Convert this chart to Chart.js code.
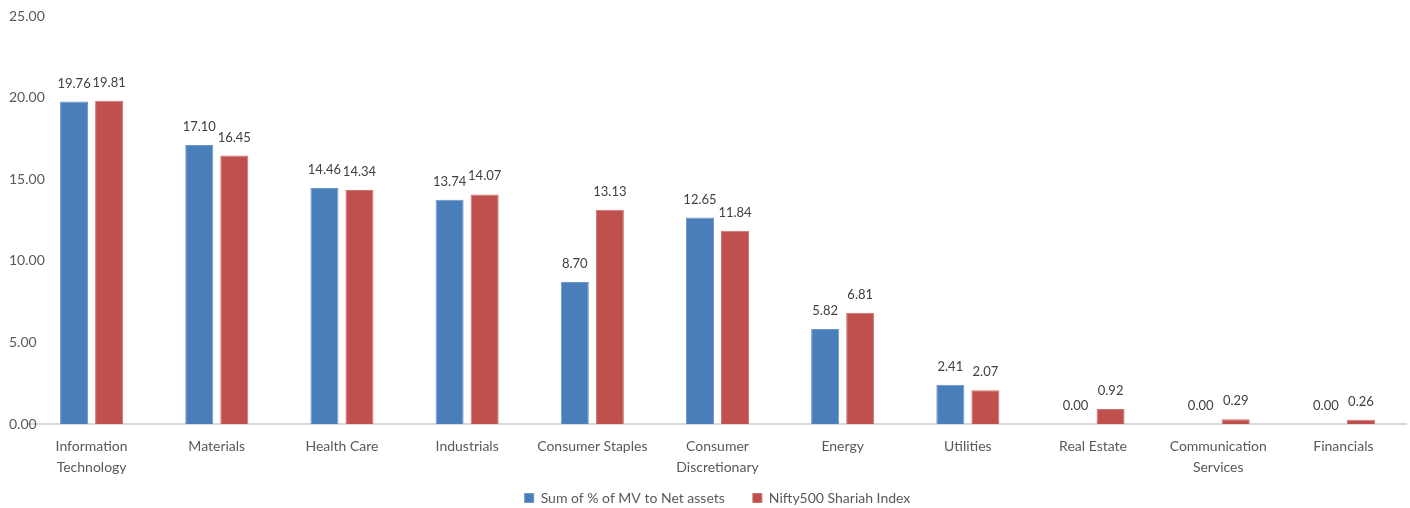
<!DOCTYPE html>
<html>
<head>
<meta charset="utf-8">
<script src="https://cdn.jsdelivr.net/npm/chart.js@4/dist/chart.umd.min.js"></script>
<style>
  body { margin: 0; background: #fff; }
</style>
</head>
<body>
<canvas id="myChart" width="1410" height="508"></canvas>
<script>
var categories = [
	[ "Information", "Technology" ], "Materials", "Health Care", "Industrials",
	"Consumer Staples", [ "Consumer", "Discretionary" ], "Energy", "Utilities",
	"Real Estate", [ "Communication", "Services" ], "Financials" ];
var fundValues = [ 19.76, 17.10, 14.46, 13.74, 8.70, 12.65, 5.82, 2.41, 0.00, 0.00, 0.00 ];
var indexValues = [ 19.81, 16.45, 14.34, 14.07, 13.13, 11.84, 6.81, 2.07, 0.92, 0.29, 0.26 ];
var seriesNames = [ "Sum of % of MV to Net assets", "Nifty500 Shariah Index" ];
var yTicks = [ 0, 5, 10, 15, 20, 25 ];

var fontName = "Lato, 'Liberation Sans', sans-serif";
var textColor = "#595959";

// draws the value above each bar
var valueLabels = {
	id : "valueLabels",
	afterDatasetsDraw : function(chart) {
		var ctx = chart.ctx;
		ctx.save();
		ctx.font = "13px " + fontName;
		ctx.fillStyle = "#404040";
		ctx.textAlign = "center";
		ctx.textBaseline = "alphabetic";
		chart.data.datasets.forEach(function(ds, i) {
			var meta = chart.getDatasetMeta(i);
			meta.data.forEach(function(bar, j) {
				ctx.fillText(ds.data[j].toFixed(2), bar.x, bar.y - 14);
			});
		});
		ctx.restore();
	}
};

// x labels hang into the legend's spare padding, so don't clip them
var looseLabels = {
	id : "looseLabels",
	afterLayout : function(chart) {
		chart.scales.x.bottom = chart.height;
	}
};

var ctx = document.getElementById('myChart').getContext('2d');
var chart = new Chart(ctx, {
	type : "bar",
	data : {
		labels : categories,
		datasets : [ {
			label : seriesNames[0],
			data : fundValues,
			backgroundColor : "#4a7ebb",
			borderColor : "#6e97c9",
			borderWidth : 1,
			barPercentage : 0.8,
			categoryPercentage : 0.56
		}, {
			label : seriesNames[1],
			data : indexValues,
			backgroundColor : "#c0504d",
			borderColor : "#cd716f",
			borderWidth : 1,
			barPercentage : 0.8,
			categoryPercentage : 0.56
		} ]
	},
	options : {
		responsive : false,
		animation : false,
		layout : {
			padding : { left : 29, right : 4, top : 16, bottom : -7 }
		},
		plugins : {
			legend : {
				position : "bottom",
				labels : {
					boxWidth : 9,
					boxHeight : 9,
					padding : 28,
					color : textColor,
					font : { family : fontName, size : 14 }
				}
			},
			tooltip : { enabled : false }
		},
		scales : {
			x : {
				afterFit : function(scale) { scale.height -= 27; },
				grid : { display : false, drawTicks : false },
				border : { display : true, color : "#d9d9d9", width : 2 },
				ticks : {
					color : textColor,
					padding : 12,
					maxRotation : 0,
					autoSkip : false,
					font : { family : fontName, size : 14, lineHeight : 1.5 }
				}
			},
			y : {
				min : 0,
				max : 25,
				afterFit : function(scale) { scale.width = 0; },
				afterBuildTicks : function(scale) {
					scale.ticks = yTicks.map(function(v) { return { value : v }; });
				},
				grid : { display : false, drawTicks : false },
				border : { display : false },
				ticks : {
					mirror : true,
					color : textColor,
					padding : -20,
					font : { family : fontName, size : 14 },
					callback : function(v) { return v.toFixed(2); }
				}
			}
		}
	},
	plugins : [ valueLabels, looseLabels ]
});
</script>
</body>
</html>
